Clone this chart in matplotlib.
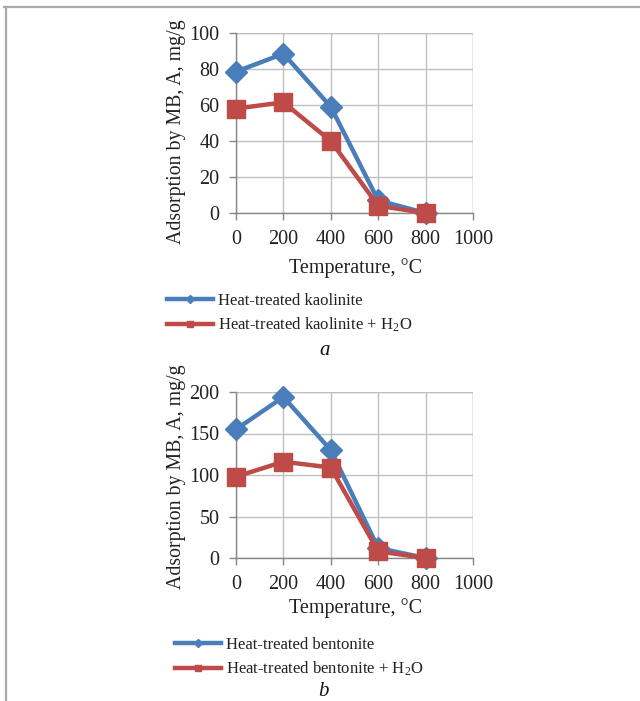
import matplotlib
matplotlib.use("Agg")
import matplotlib.pyplot as plt
from matplotlib.lines import Line2D

plt.rcParams['font.family'] = ['Liberation Serif', 'DejaVu Serif']
plt.rcParams['mathtext.fontset'] = 'stix'

temps = [0, 200, 400, 600, 800]
kaolinite = [78.5, 88.5, 59, 7, 0]
kaolinite_h2o = [58, 61.5, 40, 4, 0]
bentonite = [155, 194, 130, 12, 0]
bentonite_h2o = [98, 116, 109, 8, 0]

x_ticks = [0, 200, 400, 600, 800, 1000]
y_ticks_a = [0, 20, 40, 60, 80, 100]
y_ticks_b = [0, 50, 100, 150, 200]

labels_a = ['Heat-treated kaolinite', r'Heat-treated kaolinite + H$_\mathregular{2}$O']
labels_b = ['Heat-treated bentonite', r'Heat-treated bentonite + H$_\mathregular{2}$O']

BLUE = '#4A7EBB'
RED = '#BE4B48'
GRID = '#BFBFBF'
AXIS = '#868686'
TXT = '#222222'

W, H = 640, 701
fig = plt.figure(figsize=(W / 100, H / 100), dpi=100)


def px(x0, y0, x1, y1):
    return [x0 / W, 1 - y1 / H, (x1 - x0) / W, (y1 - y0) / H]


def make_axes(rect, s1, s2, yticks, ymax):
    ax = fig.add_axes(rect)
    ax.plot(temps, s1, color=BLUE, lw=3.2, marker='D', ms=11.5, mec=BLUE, mfc=BLUE, zorder=3, clip_on=False)
    ax.plot(temps, s2, color=RED, lw=3.2, marker='s', ms=13.5, mec=RED, mfc=RED, zorder=4, clip_on=False)
    ax.set_xlim(0, 1000)
    ax.set_ylim(0, ymax)
    ax.set_xticks(x_ticks)
    ax.set_yticks(yticks)
    ax.grid(True, color=GRID, lw=1)
    ax.set_axisbelow(True)
    for s in ['top', 'right']:
        ax.spines[s].set_visible(False)
    for s in ['left', 'bottom']:
        ax.spines[s].set_color(AXIS)
        ax.spines[s].set_linewidth(1)
    ax.tick_params(axis='both', colors=AXIS, length=5, width=1, labelsize=14.5,
                   labelcolor=TXT, pad=7)
    ax.axvline(1000, color=GRID, lw=1, zorder=0)
    ax.axhline(ymax, color=GRID, lw=1, zorder=0)
    return ax


ax1 = make_axes(px(236, 33, 473, 213), kaolinite, kaolinite_h2o, y_ticks_a, 100)
ax2 = make_axes(px(236, 392, 473, 558), bentonite, bentonite_h2o, y_ticks_b, 200)

for ax, yc, xly in [(ax1, 132, 268), (ax2, 477, 608)]:
    fig.text(176 / W, 1 - yc / H, 'Adsorption by MB, A, mg/g', rotation=90,
             ha='center', va='center', fontsize=14.3, color=TXT)
    fig.text(356 / W, 1 - xly / H, 'Temperature, \u00b0C', ha='center', va='center',
             fontsize=14.5, color=TXT)


def legend(labels, x0, ytop):
    handles = [Line2D([], [], color=BLUE, lw=3.2, marker='D', ms=4),
               Line2D([], [], color=RED, lw=3.2, marker='s', ms=5)]
    fig.legend(handles, labels, loc='upper left', bbox_to_anchor=(x0 / W, 1 - ytop / H),
               frameon=False, fontsize=12, borderpad=0, borderaxespad=0,
               handlelength=2.75, handletextpad=0.3, labelspacing=0.4, labelcolor=TXT)


legend(labels_a, 167, 293)
legend(labels_b, 175, 637)

fig.text(325 / W, 1 - 350 / H, 'a', style='italic', ha='center', va='center', fontsize=15, color='#111111')
fig.text(323 / W, 1 - 692 / H, 'b', style='italic', ha='center', va='center', fontsize=15, color='#111111')

fig.add_artist(Line2D([4 / W, 1], [1 - 6.5 / H, 1 - 6.5 / H], color='#AAAAAA', lw=1.6, transform=fig.transFigure))
fig.add_artist(Line2D([6 / W, 6 / W], [0, 1 - 6.5 / H], color='#AAAAAA', lw=1.6, transform=fig.transFigure))

fig.savefig('out.png', dpi=100)
